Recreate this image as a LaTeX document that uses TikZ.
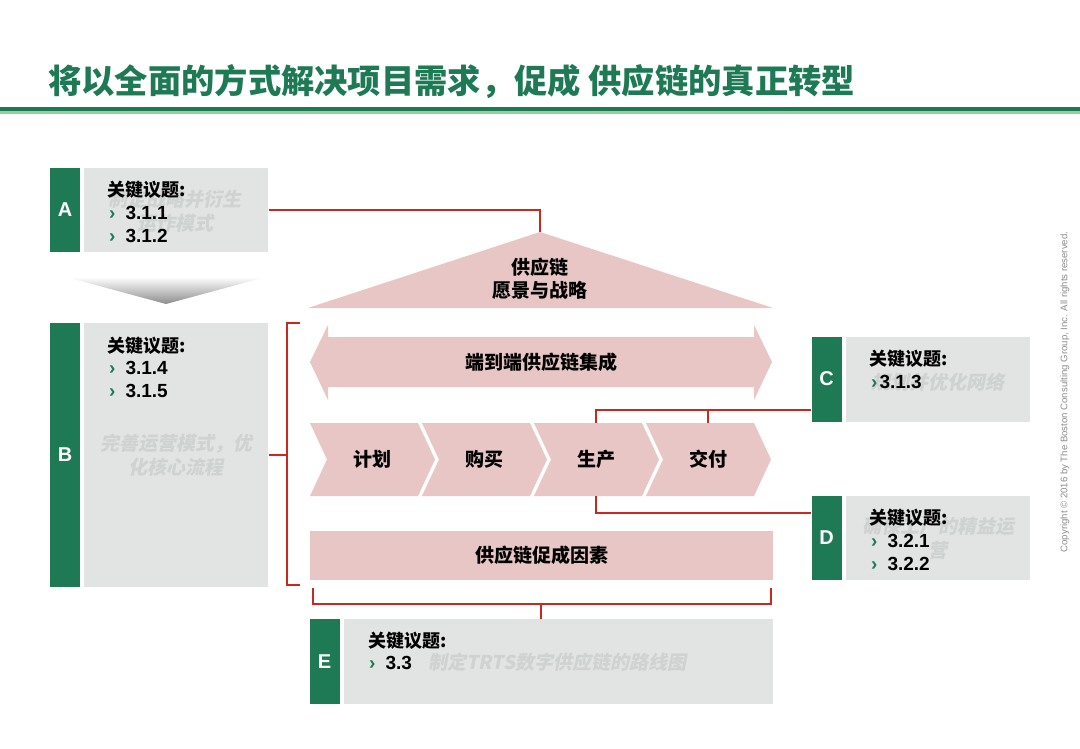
\documentclass[tikz,border=0pt]{standalone}
\usepackage{fontspec}
\setmainfont{Liberation Sans}
\newfontfamily\cjk{Noto Sans CJK SC}
\newfontfamily\cjkslant{Noto Sans CJK SC}[FakeSlant=0.2]
\usetikzlibrary{positioning}
\definecolor{bcggreen}{RGB}{29,122,85}
\definecolor{lightgreen}{RGB}{150,205,165}
\definecolor{issuegrey}{RGB}{225,228,226}
\definecolor{pinkfill}{RGB}{232,198,198}
\definecolor{linkred}{RGB}{200,40,30}
\definecolor{ghosttext}{RGB}{206,210,208}

\newcommand{\chev}[1][10pt]{{\color{bcggreen}›}\hspace{#1}}

\begin{document}
\begin{tikzpicture}[x=1pt, y=-1pt,
    node distance=4pt,
    letterbar/.style={fill=bcggreen, text=white, minimum width=30pt, inner sep=0pt, font=\fontsize{20}{24}\selectfont\bfseries},
    issuebox/.style={fill=issuegrey, inner sep=0pt},
    heading/.style={anchor=west, inner sep=0pt, font=\cjk\bfseries\fontsize{18}{20}\selectfont},
    item/.style={anchor=west, inner sep=0pt, font=\bfseries\fontsize{19}{21}\selectfont},
    ghost/.style={text=ghosttext, align=center, inner sep=0pt, font=\cjkslant\bfseries\fontsize{19}{24}\selectfont},
    stage/.style={font=\cjk\bfseries\fontsize{19}{23}\selectfont, align=center, inner sep=0pt},
    pinkbox/.style={fill=pinkfill, inner sep=0pt},
    link/.style={draw=linkred, line width=2pt}
]
\fill[white] (0,0) rectangle (1080,748);
\useasboundingbox (0,0) rectangle (1080,748);

% Title
\node[anchor=west, inner sep=0pt, text=bcggreen, font=\cjk\bfseries\fontsize{33.3}{36}\selectfont] (title) at (48,82) {将以全面的方式解决项目需求，促成 供应链的真正转型};
\fill[bcggreen] (0,106.5) rectangle (1080,110.5);
\fill[lightgreen] (0,110.5) rectangle (1080,113.5);

% Issue boxes
\node[letterbar, minimum height=84pt] (Abar) at (65,210) {A};
\node[issuebox, right=of Abar, minimum width=184pt, minimum height=84pt] (Abox) {};
\node[letterbar, minimum height=264pt] (Bbar) at (65,455) {B};
\node[issuebox, right=of Bbar, minimum width=184pt, minimum height=264pt] (Bbox) {};
\node[letterbar, minimum height=85pt] (Cbar) at (826.5,379) {C};
\node[issuebox, right=of Cbar, minimum width=184.5pt, minimum height=85pt] (Cbox) {};
\node[letterbar, minimum height=84pt] (Dbar) at (826.5,538) {D};
\node[issuebox, right=of Dbar, minimum width=184.5pt, minimum height=84pt] (Dbox) {};
\node[letterbar, minimum height=85pt] (Ebar) at (324.5,661.5) {E};
\node[issuebox, right=of Ebar, minimum width=429.5pt, minimum height=85pt] (Ebox) {};

% Faded titles
\node[ghost] (Aghost) at (175,211) {制定战略并衍生\\运作模式};
\node[ghost] (Bghost) at (176,455) {完善运营模式，优\\化核心流程};
\node[ghost] (Cghost) at (938,382) {规划并优化网络};
\node[ghost] (Dghost) at (938,538) {确保工厂的精益运\\营};
\node[ghost, anchor=west] (Eghost) at (428,662) {制定TRTS数字供应链的路线图};

% Key issues
\node[heading] (Ahead) at (107,190) {关键议题:};
\node[item] (A1) at (109,213) {\chev 3.1.1};
\node[item] (A2) at (109,236) {\chev 3.1.2};
\node[heading] (Bhead) at (107,346) {关键议题:};
\node[item] (B1) at (109,368) {\chev 3.1.4};
\node[item] (B2) at (109,391) {\chev 3.1.5};
\node[heading] (Chead) at (869,359) {关键议题:};
\node[item] (C1) at (871,382) {\chev[2pt]3.1.3};
\node[heading] (Dhead) at (869,518) {关键议题:};
\node[item] (D1) at (871,541) {\chev 3.2.1};
\node[item] (D2) at (871,564) {\chev 3.2.2};
\node[heading] (Ehead) at (368,641) {关键议题:};
\node[item] (E1) at (369,663) {\chev 3.3};

% Grey pointer under A
\shade[top color=white, bottom color=black!45] (66,277) -- (266,277) -- (166,304) -- cycle;

% Vision
\fill[pinkfill] (540,232) -- (773,308) -- (308,308) -- cycle;
\coordinate (apex) at (540,232);
\node[stage] (vision) at (540,279) {供应链\\愿景与战略};

% End-to-end arrow
\fill[pinkfill] (310,362) -- (328,325) -- (328,337) -- (754,337) -- (754,325) -- (772,362)
  -- (754,400) -- (754,387) -- (328,387) -- (328,400) -- cycle;
\node[stage] (integration) at (541,362) {端到端供应链集成};

% Process chevrons
\foreach \x/\name/\txt in {310/plan/计划, 422/buy/购买, 534/make/生产, 646/deliver/交付} {
  \fill[pinkfill] (\x,423) -- (\x+108,423) -- (\x+125,459.5) -- (\x+108,496) -- (\x,496) -- (\x+17,459.5) -- cycle;
  \node[stage] (\name) at (\x+62,459.5) {\txt};
  \coordinate (\name-n) at (\x+62,423);
  \coordinate (\name-s) at (\x+62,496);
}

% Enablers
\node[pinkbox, minimum width=463pt, minimum height=49pt] (enablers) at (541.5,555.5) {};
\node[stage] (enablerstxt) at (enablers) {供应链促成因素};

% Links
\draw[link] (Abox.east) -| (apex);
\coordinate (Bjoin) at (287,455);
\draw[link] (300,323) -| (287,585) -- (300,585);
\draw[link] (Bbox.east) -- (Bjoin);
\coordinate (Cjoin) at ([yshift=-31pt]Cbar.west);
\draw[link] (Cjoin) -| (make-n);
\draw[link] (deliver-n) -- (deliver-n |- Cjoin);
\coordinate (Djoin) at ([yshift=25pt]Dbar.west);
\draw[link] (make-s) |- (Djoin);
\coordinate (Ejoin) at (541,604);
\draw[link] (313,588) |- (771,604) -- (771,588);
\draw[link] (Ejoin) -- (Ejoin |- Ebox.north);

% Copyright
\node[rotate=90, inner sep=0pt, text=black!45, font=\fontsize{9.6}{11}\selectfont] (copyright) at (1065,392) {Copyright © 2016 by The Boston Consulting Group, Inc. All rights reserved.};

\end{tikzpicture}
\end{document}
